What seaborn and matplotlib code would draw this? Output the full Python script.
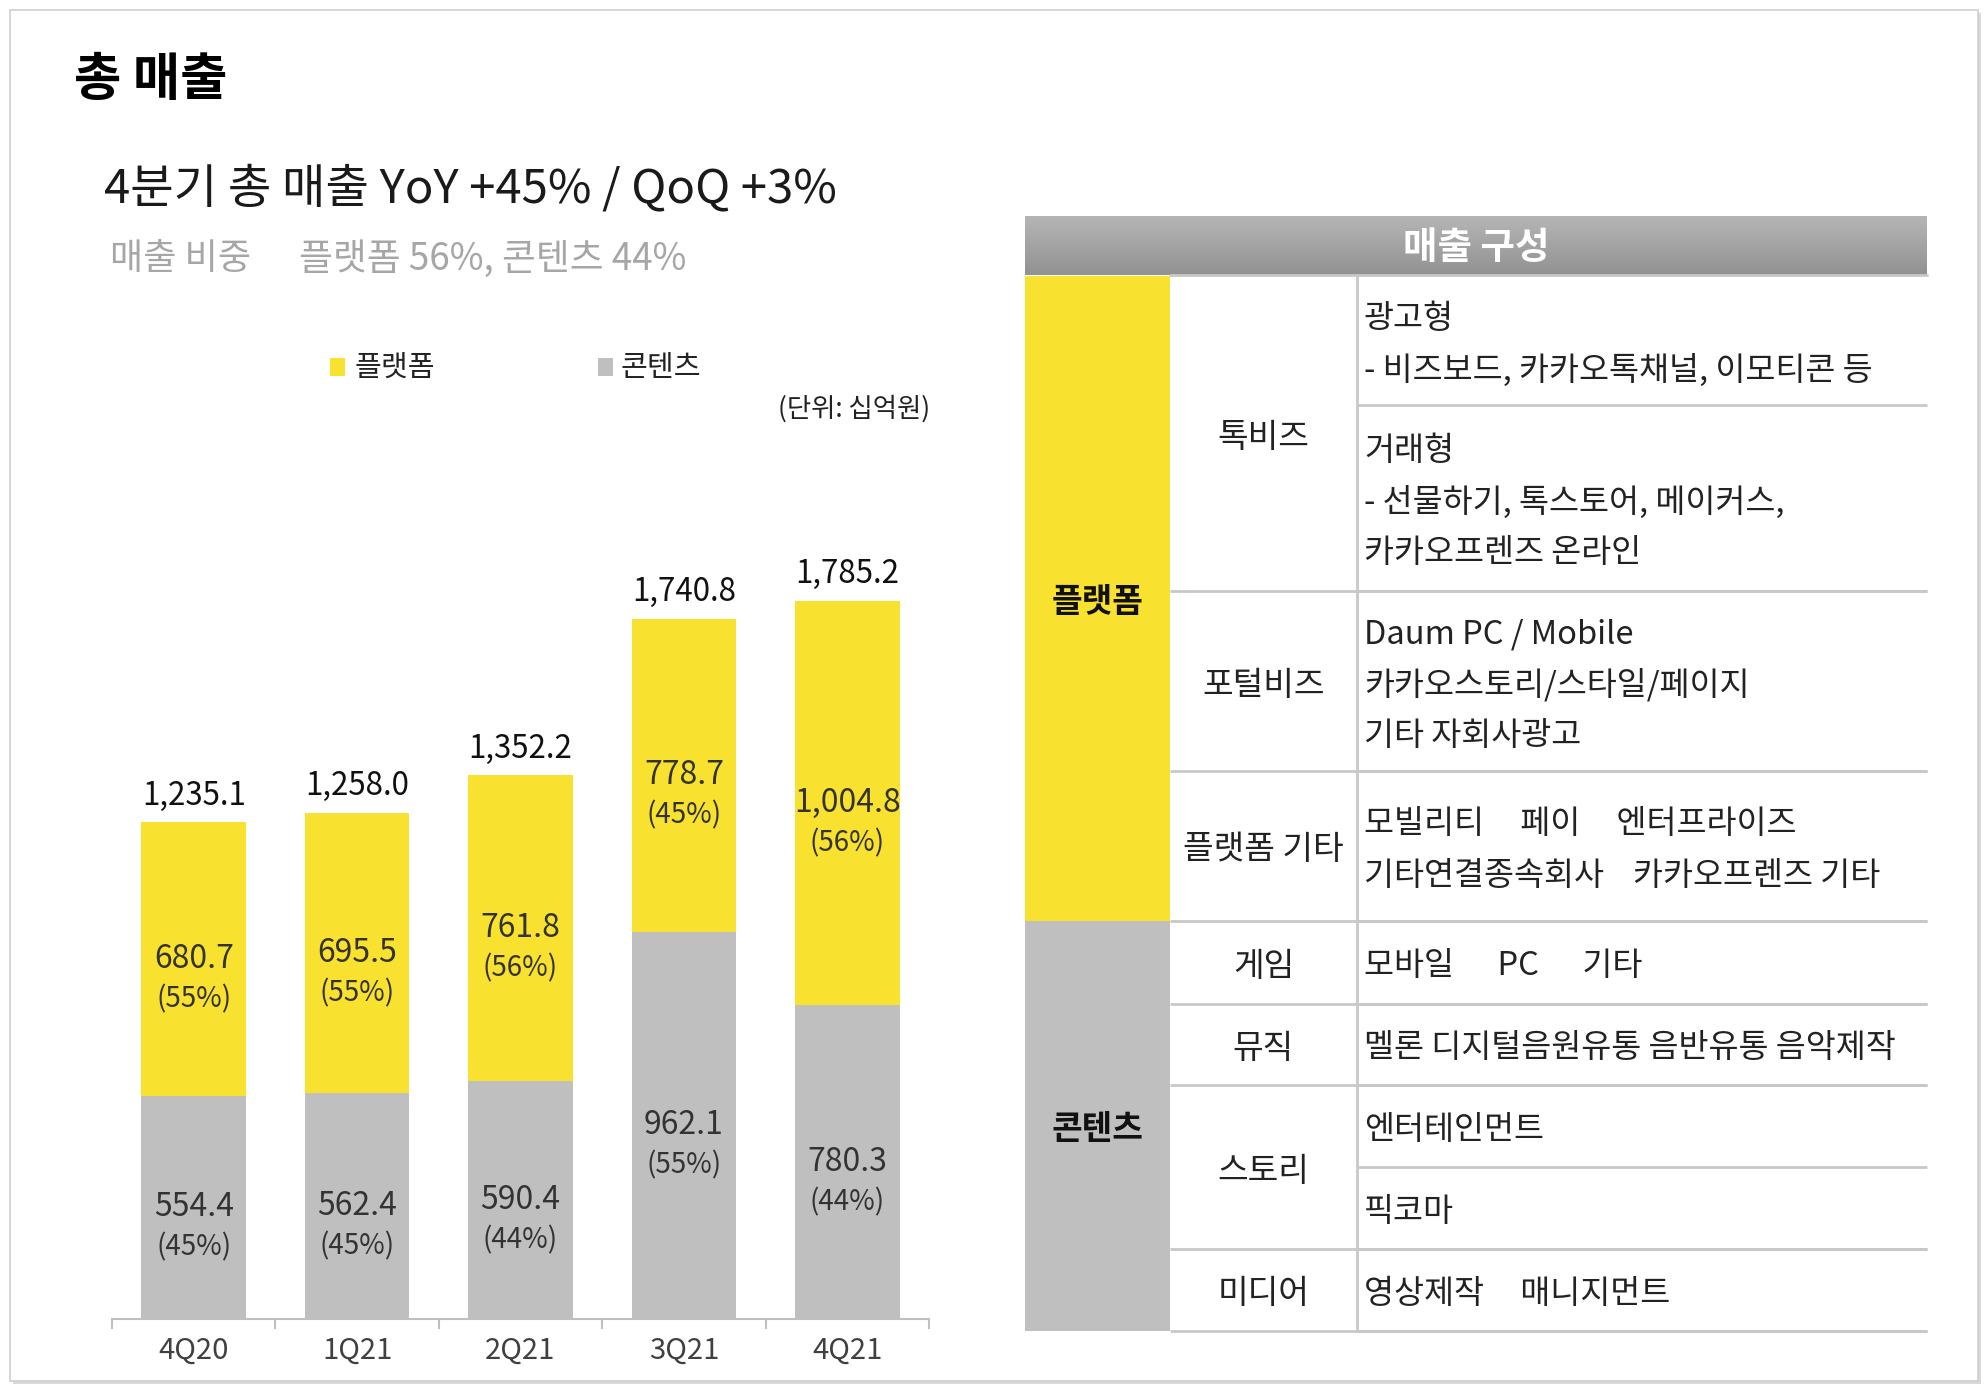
import matplotlib
matplotlib.use('Agg')
import matplotlib.pyplot as plt
from matplotlib.patches import Rectangle
from matplotlib.colors import LinearSegmentedColormap
import numpy as np
import pandas as pd
import seaborn as sns

# data (unit: 십억원)
quarters = ['4Q20', '1Q21', '2Q21', '3Q21', '4Q21']
platform = [680.7, 695.5, 761.8, 778.7, 1004.8]
content = [554.4, 562.4, 590.4, 962.1, 780.3]
totals = [1235.1, 1258.0, 1352.2, 1740.8, 1785.2]
platform_pct = ['(55%)', '(55%)', '(56%)', '(45%)', '(56%)']
content_pct = ['(45%)', '(45%)', '(44%)', '(55%)', '(44%)']

# revenue breakdown table
groups = [('플랫폼', 276, 921), ('콘텐츠', 921, 1331)]
segments = [('톡비즈', 276, 591), ('포털비즈', 591, 771), ('플랫폼 기타', 771, 921),
            ('게임', 921, 1004), ('뮤직', 1004, 1085), ('스토리', 1085, 1249),
            ('미디어', 1249, 1331)]
details = [
    (276, 405, ['광고형', '- 비즈보드, 카카오톡채널, 이모티콘 등']),
    (405, 591, ['거래형', '- 선물하기, 톡스토어, 메이커스,', '카카오프렌즈 온라인']),
    (591, 771, ['Daum PC / Mobile', '카카오스토리/스타일/페이지', '기타 자회사광고']),
    (771, 921, ['모빌리티     페이     엔터프라이즈', '기타연결종속회사    카카오프렌즈 기타']),
    (921, 1004, ['모바일      PC      기타']),
    (1004, 1085, ['멜론 디지털음원유통 음반유통 음악제작']),
    (1085, 1167, ['엔터테인먼트']),
    (1167, 1249, ['픽코마']),
    (1249, 1331, ['영상제작     매니지먼트']),
]

YELLOW = '#F9E12F'
GRAY = '#BFBFBF'
LINE = '#C8C8C8'
W, H = 1988, 1392

sns.set_style('white')
plt.rcParams['font.family'] = ['Noto Sans CJK KR', 'DejaVu Sans']

fig = plt.figure(figsize=(W / 100, H / 100), dpi=100)

# background layer in pixel coordinates
bg = fig.add_axes([0, 0, 1, 1], zorder=0)
bg.set_xlim(0, W)
bg.set_ylim(H, 0)
bg.axis('off')

# page frame with a light shadow
bg.add_patch(Rectangle((13, 13), 1968, 1371, facecolor='#d9d9d9', edgecolor='none'))
bg.add_patch(Rectangle((10, 10), 1968, 1371, facecolor='white', edgecolor='#cfcfcf', linewidth=1.2))

# titles
bg.text(74, 80, '총 매출', fontsize=37, fontweight='bold', color='black', va='center')
bg.text(104, 189, '4분기 총 매출 YoY +45% / QoQ +3%', fontsize=34, color='#1a1a1a', va='center')
bg.text(110, 259, '매출 비중', fontsize=26, color='#a6a6a6', va='center')
bg.text(299, 259, '플랫폼 56%, 콘텐츠 44%', fontsize=26.5, color='#a6a6a6', va='center')

# legend
bg.add_patch(Rectangle((330, 358), 15, 18, facecolor=YELLOW, edgecolor='none'))
bg.text(355, 368, '플랫폼', fontsize=21, color='#222222', va='center')
bg.add_patch(Rectangle((598, 358), 15, 18, facecolor=GRAY, edgecolor='none'))
bg.text(621, 368, '콘텐츠', fontsize=21, color='#222222', va='center')
bg.text(930, 409, '(단위: 십억원)', fontsize=19, color='#222222', va='center', ha='right')

# table
x0, x1, x2, x3 = 1025, 1170, 1357, 1927
grad = np.linspace(0, 1, 60).reshape(-1, 1)
cmap = LinearSegmentedColormap.from_list('hdr', ['#b5b5b5', '#929292'])
bg.imshow(grad, extent=(x0, x3, 275, 216), aspect='auto', cmap=cmap, origin='upper', zorder=1)
bg.set_xlim(0, W)
bg.set_ylim(H, 0)
bg.text((x0 + x3) / 2, 248, '매출 구성', fontsize=27, fontweight='bold', color='white',
        ha='center', va='center', zorder=3)

for (name, top, bot), col in zip(groups, [YELLOW, GRAY]):
    bg.add_patch(Rectangle((x0, top), x1 - x0, bot - top, facecolor=col, edgecolor='none', zorder=1))
    bg.text((x0 + x1) / 2, (top + bot) / 2 + 4, name, fontsize=24, fontweight='bold',
            color='#111111', ha='center', va='center', zorder=3)

for name, top, bot in segments:
    bg.text((x1 + x2) / 2, (top + bot) / 2 + 4, name, fontsize=24, color='#222222',
            ha='center', va='center', zorder=3)
    bg.plot([x1, x3], [bot, bot], color=LINE, lw=2, zorder=2, solid_capstyle='butt')

for top, bot, lines in details:
    mid = (top + bot) / 2 + 4
    n = len(lines)
    for k, line in enumerate(lines):
        bg.text(x2 + 7, mid + (k - (n - 1) / 2) * 51, line, fontsize=23.5, color='#222222',
                ha='left', va='center', zorder=3)
    bg.plot([x2, x3], [bot, bot], color=LINE, lw=2, zorder=2, solid_capstyle='butt')

bg.plot([x1, x3], [275, 275], color=LINE, lw=2, zorder=2)
bg.plot([x2, x2], [275, 1331], color=LINE, lw=2, zorder=2)

# stacked bar chart
ax = fig.add_axes([112 / W, (H - 1319) / H, 817 / W, 804.8 / H], zorder=2)
ax.patch.set_alpha(0)
df = pd.DataFrame({'quarter': quarters, 'total': totals, 'content': content})
sns.barplot(data=df, x='quarter', y='total', color=YELLOW, saturation=1, width=0.64,
            linewidth=0, ax=ax)
sns.barplot(data=df, x='quarter', y='content', color=GRAY, saturation=1, width=0.64,
            linewidth=0, ax=ax)
ax.set_xlim(-0.5, 4.5)
ax.set_ylim(0, 2000)
ax.set_xlabel('')
ax.set_ylabel('')
ax.set_yticks([])
sns.despine(ax=ax, left=True)
ax.spines['bottom'].set_color('#bfbfbf')
ax.spines['bottom'].set_linewidth(1.5)
ax.set_xticks(np.arange(-0.5, 5, 1), minor=True)
ax.tick_params(axis='x', which='minor', length=7, width=1.5, color='#bfbfbf', bottom=True)
ax.tick_params(axis='x', which='major', length=0, pad=12, labelsize=21, labelcolor='#404040')

for i in range(len(quarters)):
    ax.annotate(f'{totals[i]:,.1f}', xy=(i, totals[i]), xytext=(0, 19), textcoords='offset points',
                ha='center', va='center', fontsize=22.5, color='#111111')
    for val, bottom, pct in [(platform[i], content[i], platform_pct[i]),
                             (content[i], 0, content_pct[i])]:
        mid = bottom + val / 2
        ax.annotate(f'{val:,.1f}', xy=(i, mid), ha='center', va='center', fontsize=23,
                    color='#333333')
        ax.annotate(pct, xy=(i, mid), xytext=(0, -29), textcoords='offset points',
                    ha='center', va='center', fontsize=20, color='#333333')

fig.savefig('out.png', dpi=100)
